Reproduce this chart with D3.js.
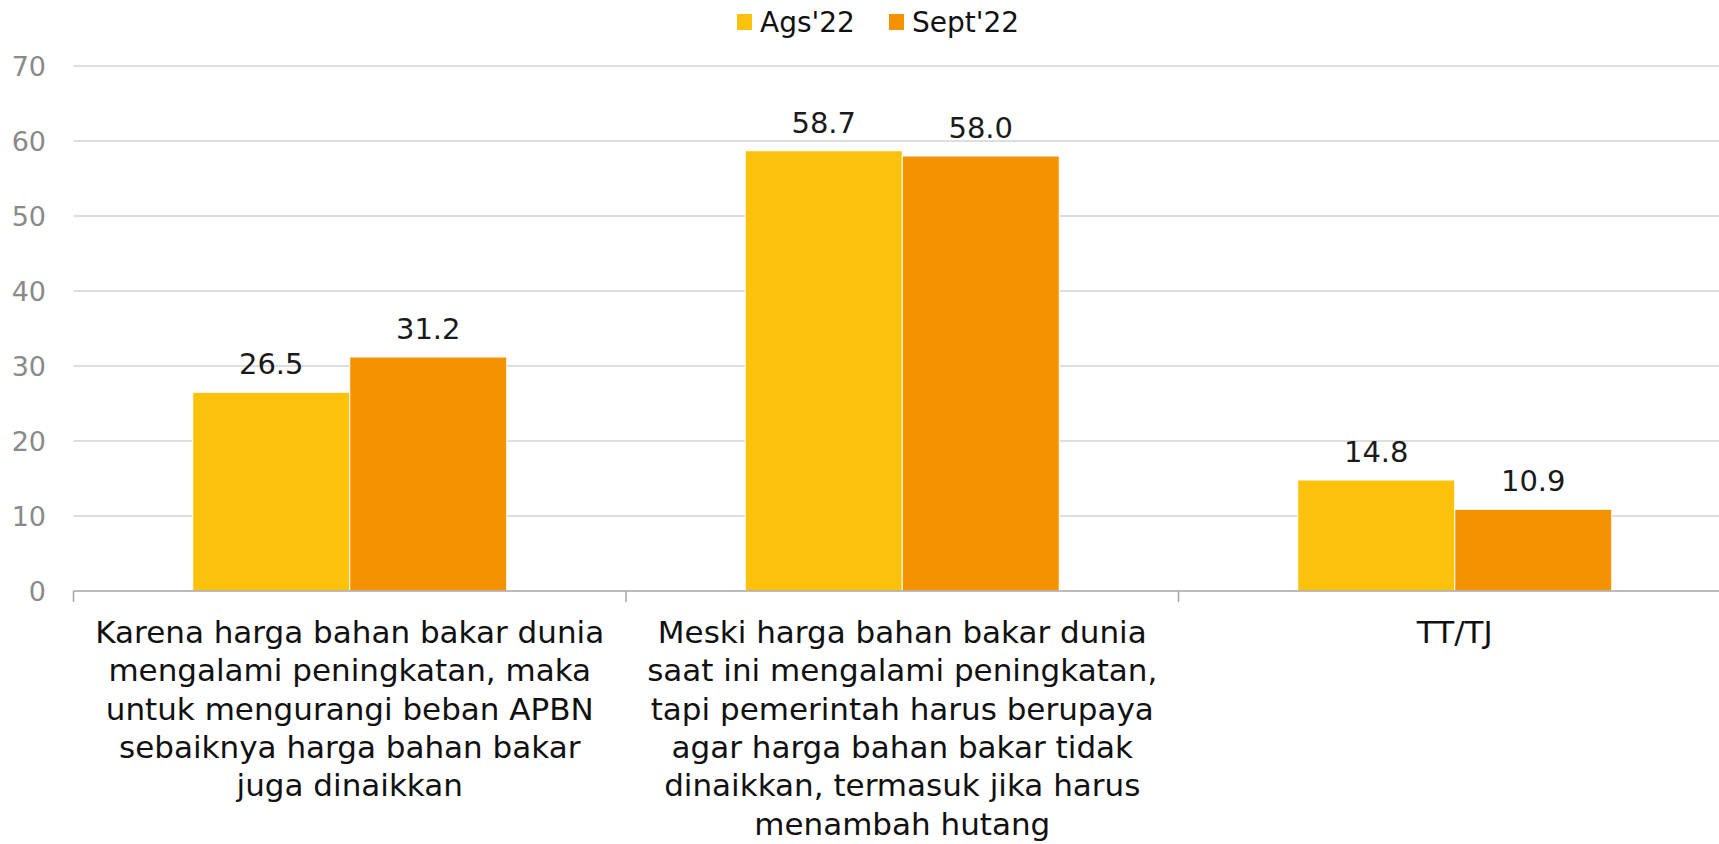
<!DOCTYPE html>
<html>
<head>
<meta charset="utf-8">
<script src="https://cdn.jsdelivr.net/npm/d3@7"></script>
<style>
  html, body { margin: 0; padding: 0; background: #ffffff; }
  svg { display: block; }
  text { font-family: "DejaVu Sans", "Noto Sans", sans-serif; }
</style>
</head>
<body>
<svg id="chart" width="1719" height="844"></svg>
<script>
// ---- data ----
const categories = [
  "Karena harga bahan bakar dunia\nmengalami peningkatan, maka\nuntuk mengurangi beban APBN\nsebaiknya harga bahan bakar\njuga dinaikkan",
  "Meski harga bahan bakar dunia\nsaat ini mengalami peningkatan,\ntapi pemerintah harus berupaya\nagar harga bahan bakar tidak\ndinaikkan, termasuk jika harus\nmenambah hutang",
  "TT/TJ"
];
const seriesNames = ["Ags'22", "Sept'22"];
const ags22 = [26.5, 58.7, 14.8];
const sept22 = [31.2, 58.0, 10.9];
const yTicks = [0, 10, 20, 30, 40, 50, 60, 70];
const colors = ["#FCC10B", "#F59200"];

(function () {
// ---- layout ----
const svg = d3.select("#chart");
const plotLeft = 73.5, step = 552.5, plotTop = 66, plotBottom = 591;
const groupPad = 1 - 314 / step;

const x = d3.scaleBand()
  .domain(categories)
  .range([plotLeft, plotLeft + step * categories.length])
  .paddingInner(groupPad)
  .paddingOuter(groupPad / 2);
const x1 = d3.scaleBand().domain(seriesNames).range([0, x.bandwidth()]);
const y = d3.scaleLinear().domain([0, 70]).range([plotBottom, plotTop]);

// gridlines
svg.append("g").selectAll("line")
  .data(yTicks.filter(d => d > 0))
  .join("line")
  .attr("x1", plotLeft).attr("x2", 1719)
  .attr("y1", d => y(d)).attr("y2", d => y(d))
  .attr("stroke", "#d3d3d3").attr("stroke-width", 1.5);

// y tick labels
svg.append("g").selectAll("text")
  .data(yTicks)
  .join("text")
  .attr("x", 46).attr("y", d => y(d))
  .attr("dy", "0.36em")
  .attr("text-anchor", "end")
  .attr("font-size", 27)
  .attr("fill", "#8a8a8a")
  .text(d => d);

// bars
const series = [ags22, sept22];
const g = svg.append("g");
series.forEach((vals, si) => {
  g.append("g").selectAll("rect")
    .data(vals.map((v, i) => ({ v, c: categories[i] })))
    .join("rect")
    .attr("x", d => x(d.c) + x1(seriesNames[si]))
    .attr("width", x1.bandwidth())
    .attr("y", d => y(d.v))
    .attr("height", d => y(0) - y(d.v))
    .attr("fill", colors[si])
    .attr("stroke", "#ffffff")
    .attr("stroke-width", 1);
  g.append("g").selectAll("text")
    .data(vals.map((v, i) => ({ v, c: categories[i] })))
    .join("text")
    .attr("x", d => x(d.c) + x1(seriesNames[si]) + x1.bandwidth() / 2)
    .attr("y", d => y(d.v) - 18)
    .attr("text-anchor", "middle")
    .attr("font-size", 29)
    .attr("fill", "#1a1a1a")
    .text(d => d.v.toFixed(1));
});

// x axis line and ticks
svg.append("line")
  .attr("x1", plotLeft).attr("x2", 1719)
  .attr("y1", plotBottom).attr("y2", plotBottom)
  .attr("stroke", "#a6a6a6").attr("stroke-width", 1.5);
const tickXs = categories.map(c => x(c) - x.step() * groupPad / 2);
svg.append("g").selectAll("line")
  .data(tickXs)
  .join("line")
  .attr("x1", d => d).attr("x2", d => d)
  .attr("y1", plotBottom).attr("y2", plotBottom + 11)
  .attr("stroke", "#a6a6a6").attr("stroke-width", 1.5);

// category labels
const catG = svg.append("g");
categories.forEach(c => {
  const t = catG.append("text")
    .attr("text-anchor", "middle")
    .attr("font-size", 31)
    .attr("fill", "#111111");
  c.split("\n").forEach((line, i) => {
    t.append("tspan")
      .attr("x", x(c) + x.bandwidth() / 2)
      .attr("y", 643 + i * 38.3)
      .text(line);
  });
});

// legend
const legendX = [737, 889];
const lg = svg.append("g");
seriesNames.forEach((s, i) => {
  lg.append("rect")
    .attr("x", legendX[i]).attr("y", 14)
    .attr("width", 15).attr("height", 16)
    .attr("fill", colors[i]);
  lg.append("text")
    .attr("x", legendX[i] + 23).attr("y", 32)
    .attr("font-size", 28)
    .attr("fill", "#111111")
    .text(s);
});
})();
</script>
</body>
</html>
